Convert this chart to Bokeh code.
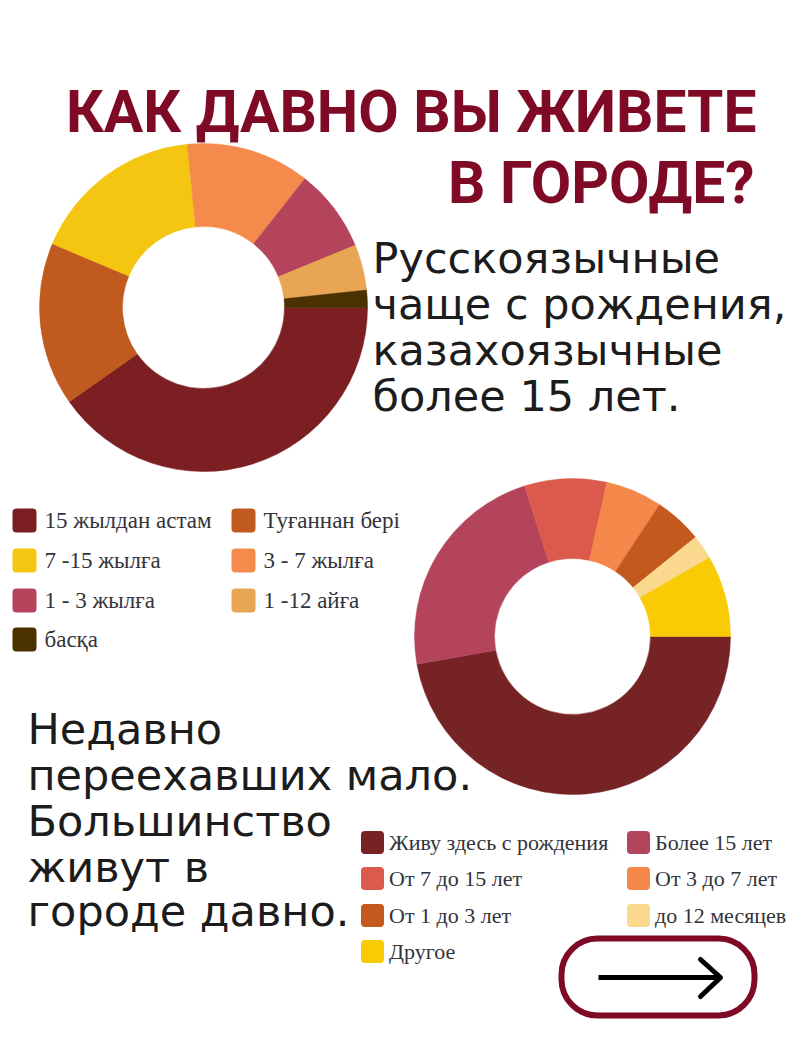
import numpy as np
from bokeh.core.properties import value
from bokeh.embed import file_html
from bokeh.models import Range1d
from bokeh.plotting import figure
from bokeh.resources import INLINE

# shares in percent, clockwise from 3 o'clock
kz_labels = ['15 жылдан астам', 'Туғаннан бері', '7 -15 жылға', '3 - 7 жылға',
             '1 - 3 жылға', '1 -12 айға', 'басқа']
kz_values = [40.3, 16.1, 17.1, 12.2, 8.2, 4.5, 1.7]
kz_colors = ['#7b1f22', '#c05a1e', '#f5c611', '#f58a4d', '#b4445c', '#e8a553', '#4b3000']

ru_labels = ['Живу здесь с рождения', 'Более 15 лет', 'От 7 до 15 лет', 'От 3 до 7 лет',
             'От 1 до 3 лет', 'до 12 месяцев', 'Другое']
ru_values = [47.2, 22.9, 8.4, 5.8, 4.9, 2.5, 8.3]
ru_colors = ['#762326', '#b4445c', '#dc5a4c', '#f5874a', '#c4591d', '#fad98f', '#f8cb05']

title_lines = ['КАК ДАВНО ВЫ ЖИВЕТЕ', 'В ГОРОДЕ?']
note_top = ['Русскоязычные', 'чаще с рождения,', 'казахоязычные', 'более 15 лет.']
note_bottom = ['Недавно', 'переехавших мало.', 'Большинство', 'живут в', 'городе давно.']

ACCENT = '#7f0a25'
TEXT = '#33333b'
BODY_FONT = value('DejaVu Sans')
TITLE_FONT = value('Roboto')
LEGEND_FONT = value('Liberation Serif')


def Y(page_y):
    # page pixels count downwards, the plot's y upwards
    return 1051 - page_y


def donut(p, values, colors, cx, cy, outer, inner):
    edges = np.cumsum([0] + values) / sum(values) * 2 * np.pi
    p.annular_wedge(x=cx, y=Y(cy), inner_radius=inner, outer_radius=outer,
                    start_angle=-edges[:-1], end_angle=-edges[1:], direction='clock',
                    fill_color=colors, line_color=colors, line_width=0.5)


def legend(p, labels, colors, col_x, row_y, size, gap, font_size):
    # entries fill row by row, two columns
    xs = [col_x[i % 2] for i in range(len(labels))]
    ys = [Y(row_y[i // 2]) for i in range(len(labels))]
    p.rect(x=xs, y=ys, width=size, height=size, fill_color=colors, line_color=None,
           border_radius=4)
    p.text(x=[x + size / 2 + gap for x in xs], y=ys, text=labels, text_font=LEGEND_FONT,
           text_font_size=font_size, text_color=TEXT, text_baseline='middle')


def text_block(p, lines, x, centers, size, **kw):
    p.text(x=[x] * len(lines), y=[Y(c) for c in centers], text=lines,
           text_font_size=size, text_baseline='middle', **kw)


p = figure(width=792, height=1043, output_backend='svg', toolbar_location=None,
           x_range=Range1d(0, 792), y_range=Range1d(8, 1051),
           x_axis_type=None, y_axis_type=None, min_border=0, outline_line_color=None)
p.grid.visible = False

donut(p, kz_values, kz_colors, 203, 307, 164, 81)
donut(p, ru_values, ru_colors, 572, 636, 158, 78)

p.text(x=[756, 754], y=[Y(111), Y(182)], text=title_lines, text_font=TITLE_FONT,
       text_font_style='bold', text_font_size='58.7px', text_color=ACCENT,
       text_align='right', text_baseline='middle')

text_block(p, note_top, 372, [257, 303, 349, 395], '43px', text_font=BODY_FONT, text_color='#1c1c1c')
text_block(p, note_bottom, 27, [728, 774, 820, 866, 910], '43px', text_font=BODY_FONT, text_color='#1c1c1c')

legend(p, kz_labels, kz_colors, [24, 243], [520, 560, 600, 639], 24, 8, '23px')
legend(p, ru_labels, ru_colors, [372, 638], [842, 878, 915, 951], 23, 5, '22px')

# next-page button
p.rect(x=[657.5], y=[Y(976.5)], width=193, height=77, fill_color=None,
       line_color=ACCENT, line_width=6, border_radius=36)
p.line(x=[598, 720], y=[Y(977), Y(977)], line_color='black', line_width=5)
p.line(x=[700, 720, 700], y=[Y(959), Y(977), Y(996)], line_color='black', line_width=5,
       line_cap='round', line_join='round')

open('out.html', 'w').write(file_html(p, INLINE))
